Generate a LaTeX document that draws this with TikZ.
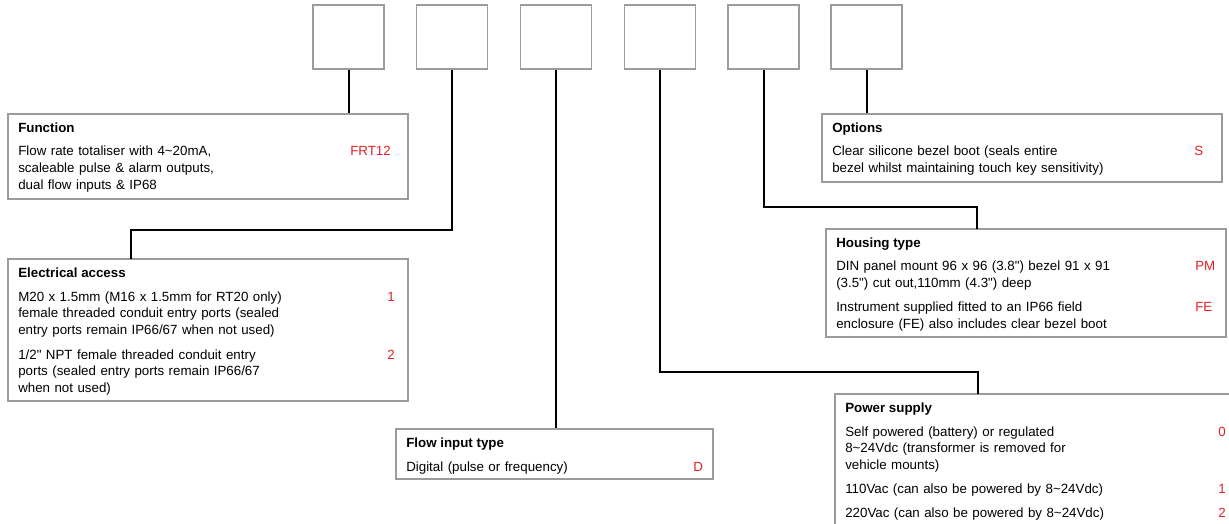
\documentclass[tikz,border=0pt]{standalone}
\usepackage{fontspec}
\setmainfont{Liberation Sans}
\definecolor{codered}{RGB}{226,30,38}
\definecolor{framegray}{RGB}{155,155,155}
\begin{document}
\begin{tikzpicture}[x=0.75pt,y=-0.75pt,
  slot/.style={draw=framegray,line width=1.3pt,inner sep=0pt,minimum width=53.25pt,minimum height=47.6pt},
  panel/.style={draw=framegray,line width=1.3pt,inner sep=0pt},
  head/.style={anchor=base west,inner sep=0pt,font=\fontsize{10}{12.45}\selectfont\bfseries},
  body/.style={anchor=base west,inner sep=0pt,text width=260pt,align=left,font=\fontsize{10}{12.45}\selectfont},
  code/.style={anchor=base west,inner sep=0pt,text=codered,font=\fontsize{10}{12.45}\selectfont},
  link/.style={line width=1.5pt}]
\clip (0,0) rectangle (1229,524);
% slots
\node[slot] (b1) at (348.5,37) {};
\node[slot] (b2) at (452,37) {};
\node[slot] (b3) at (556,37) {};
\node[slot] (b4) at (660,37) {};
\node[slot] (b5) at (763.5,37) {};
\node[slot] (b6) at (866.5,37) {};
% function
\node[panel,minimum width=300pt,minimum height=63.75pt] (fun) at (208,156.5) {};
\node[head] (funhead) at (18,132.5) {Function};
\node[body] (funtext) at (18,156) {Flow rate totaliser with 4\textasciitilde20mA,\\ scaleable pulse \& alarm outputs,\\ dual flow inputs \& IP68};
\node[code] (funcode) at (350,156) {FRT12};
% electrical access
\node[panel,minimum width=300pt,minimum height=106.5pt] (elec) at (208,330) {};
\node[head] (elechead) at (18,277.5) {Electrical access};
\node[body] (electext1) at (18,301) {M20 x 1.5mm (M16 x 1.5mm for RT20 only)\\ female threaded conduit entry ports (sealed\\ entry ports remain IP66/67 when not used)};
\node[code] (eleccode1) at (387,301) {1};
\node[body] (electext2) at (18,359) {1/2\textquotedbl{} NPT female threaded conduit entry\\ ports (sealed entry ports remain IP66/67\\ when not used)};
\node[code] (eleccode2) at (387,359) {2};
% flow input
\node[panel,minimum width=237.75pt,minimum height=37.9pt] (flow) at (554.5,454) {};
\node[head] (flowhead) at (406,447.5) {Flow input type};
\node[body] (flowtext) at (406,471) {Digital (pulse or frequency)};
\node[code] (flowcode) at (693,471) {D};
% options
\node[panel,minimum width=300pt,minimum height=51pt] (opt) at (1022,148) {};
\node[head] (opthead) at (832,132.5) {Options};
\node[body] (opttext) at (832,156) {Clear silicone bezel boot (seals entire\\ bezel whilst maintaining touch key sensitivity)};
\node[code] (optcode) at (1194,156) {S};
% housing
\node[panel,minimum width=300pt,minimum height=81.4pt] (hous) at (1026,283) {};
\node[head] (houshead) at (836,247.5) {Housing type};
\node[body] (houstext1) at (836,271) {DIN panel mount 96 x 96 (3.8\textquotedbl) bezel 91 x 91\\ (3.5\textquotedbl) cut out,110mm (4.3\textquotedbl) deep};
\node[code] (houscode1) at (1195,271) {PM};
\node[body] (houstext2) at (836,311.5) {Instrument supplied fitted to an IP66 field\\ enclosure (FE) also includes clear bezel boot};
\node[code] (houscode2) at (1195,311.5) {FE};
% power supply
\node[panel,minimum width=307.5pt,minimum height=114pt] (pow) at (1040,470) {};
\node[head] (powhead) at (845,412.5) {Power supply};
\node[body] (powtext1) at (845,436) {Self powered (battery) or regulated\\ 8\textasciitilde24Vdc (transformer is removed for\\ vehicle mounts)};
\node[code] (powcode1) at (1218,436) {0};
\node[body] (powtext2) at (845,493) {110Vac (can also be powered by 8\textasciitilde24Vdc)};
\node[code] (powcode2) at (1218,493) {1};
\node[body] (powtext3) at (845,517) {220Vac (can also be powered by 8\textasciitilde24Vdc)};
\node[code] (powcode3) at (1218,517) {2};
% links
\coordinate (elecin) at (131,259);
\coordinate (housin) at (977,229);
\coordinate (powin) at (978,394);
\draw[link] (b1.south) -- (b1.south |- fun.north);
\draw[link] (b2.south) -- ++(0,160.5) -| (elecin);
\draw[link] (b3.south) -- (b3.south |- flow.north);
\draw[link] (b4.south) -- ++(0,302.5) -| (powin);
\draw[link] (b5.south) -- ++(0,137.5) -| (housin);
\draw[link] (b6.south) -- (b6.south |- opt.north);
\end{tikzpicture}
\end{document}
